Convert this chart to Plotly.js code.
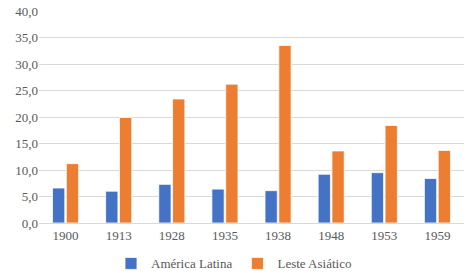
<!DOCTYPE html>
<html><head><meta charset="utf-8">
<script src="https://cdn.plot.ly/plotly-3.0.1.min.js"></script>
<style>html,body{margin:0;padding:0;background:#fff;}#chart{width:468px;height:273px;}</style>
</head><body><div id="chart"></div>
<script>
var years = ['1900','1913','1928','1935','1938','1948','1953','1959'];
var americaLatina = [6.6, 6.0, 7.3, 6.4, 6.1, 9.2, 9.5, 8.4];
var lesteAsiatico = [11.2, 19.9, 23.4, 26.2, 33.5, 13.6, 18.4, 13.7];
var yTicks = [0, 5, 10, 15, 20, 25, 30, 35, 40];

var fontFam = 'Liberation Serif, DejaVu Serif, serif';
var data = [
  {type:'bar', name:'América Latina', x:years, y:americaLatina,
   marker:{color:'#4472C4', line:{color:'#ffffff', width:0.8}}},
  {type:'bar', name:'Leste Asiático', x:years, y:lesteAsiatico,
   marker:{color:'#ED7D31', line:{color:'#ffffff', width:0.8}}}
];
var layout = {
  width:468, height:273,
  margin:{l:39, r:4, t:11, b:50},
  paper_bgcolor:'#fff', plot_bgcolor:'#fff',
  separators:',.',
  font:{family:fontFam, size:13, color:'#595959'},
  barmode:'group', bargap:0.48, bargroupgap:0.11,
  showlegend:true,
  legend:{orientation:'h', x:0.5, xanchor:'center', xref:'container',
          y:0.09, yanchor:'top', yref:'container',
          font:{family:fontFam, size:13, color:'#595959'}, itemwidth:30, tracegroupgap:0},
  xaxis:{type:'category', tickfont:{family:fontFam, size:13, color:'#595959'},
         showline:true, linecolor:'#d9d9d9', linewidth:1, ticks:'', showgrid:false},
  yaxis:{range:[0,40], tickvals:yTicks, tickformat:'.1f', showgrid:true, gridcolor:'#d9d9d9',
         gridwidth:1, zeroline:false, showline:false, ticks:'', ticklen:0,
         tickfont:{family:fontFam, size:13, color:'#595959'}}
};
Plotly.newPlot('chart', data, layout, {displayModeBar:false, staticPlot:true});
</script></body></html>
